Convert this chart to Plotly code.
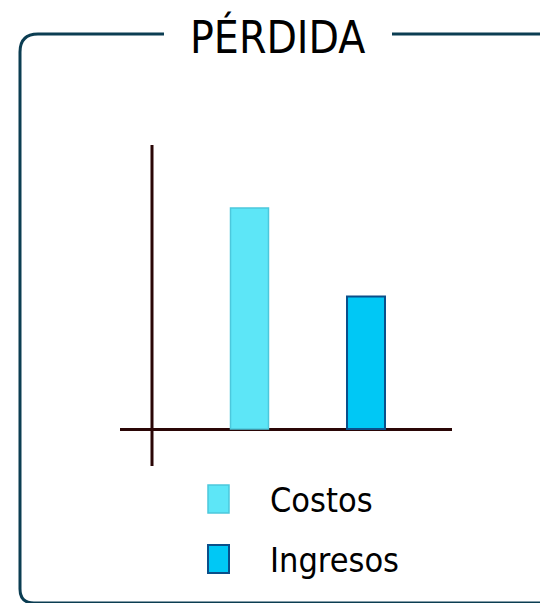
import plotly.graph_objects as go

# ---- data ----
categories = ["Costos", "Ingresos"]
values = [100, 60]
title_text = "PÉRDIDA"

# ---- styles ----
W, H = 540, 603
fill_colors = ["#5de6f7", "#00c8f5"]
edge_colors = ["#4cc8dc", "#0a4f8a"]
edge_widths = [1.5, 2]
axis_color = "#2a0606"
frame_color = "#0b3d52"
FONT = "DejaVu Sans Condensed, Liberation Sans Narrow, Liberation Sans, sans-serif"


def px(x):
    return x / W


def py(y):
    return 1 - y / H


fig = go.Figure()
for cat, val, fc, ec, ew in zip(categories, values, fill_colors, edge_colors, edge_widths):
    fig.add_trace(go.Bar(
        x=[cat], y=[val], name=cat, width=0.326,
        marker=dict(color=fc, line=dict(color=ec, width=ew)),
        showlegend=False, hoverinfo="skip",
    ))

unit = 116.5
c0 = 249.5
fig.update_layout(
    width=W, height=H,
    margin=dict(l=0, r=0, t=0, b=0),
    paper_bgcolor="white", plot_bgcolor="white",
    barmode="overlay",
    xaxis=dict(type="category", domain=[px(120), px(452)],
               range=[(120 - c0) / unit, (452 - c0) / unit],
               showticklabels=False, showgrid=False, zeroline=False, showline=False,
               fixedrange=True),
    yaxis=dict(domain=[py(466), py(145)], range=[-16.7, 128.5],
               showticklabels=False, showgrid=False, zeroline=True,
               zerolinecolor=axis_color, zerolinewidth=3, fixedrange=True),
)

shapes = []
# vertical axis line
shapes.append(dict(type="line", xref="paper", yref="paper",
                   x0=px(152), x1=px(152), y0=py(466), y1=py(145),
                   line=dict(color=axis_color, width=3)))

# frame (rounded rectangle broken by title)
def P(x, y):
    return f"{px(x):.5f},{py(y):.5f}"

frame_left = (f"M {P(164,34)} L {P(38,34)} Q {P(20,34)} {P(20,52)} "
              f"L {P(20,589)} Q {P(20,603)} {P(34,603)} L {P(541,603)}")
frame_right = f"M {P(392,34)} L {P(541,34)}"
for path in (frame_left, frame_right):
    shapes.append(dict(type="path", xref="paper", yref="paper", path=path,
                       line=dict(color=frame_color, width=3)))

# legend swatches
legend_y = [(485, 513), (545, 573)]
for (y0, y1), fc, ec, ew in zip(legend_y, fill_colors, edge_colors, edge_widths):
    shapes.append(dict(type="rect", xref="paper", yref="paper",
                       x0=px(208), x1=px(229), y0=py(y1), y1=py(y0),
                       fillcolor=fc, line=dict(color=ec, width=ew)))
fig.update_layout(shapes=shapes)

annotations = [dict(text=title_text, xref="paper", yref="paper",
                    x=px(277), y=py(37), xanchor="center", yanchor="middle",
                    showarrow=False, font=dict(family=FONT, size=44, color="black"))]
for cat, yc in zip(categories, [500, 560]):
    annotations.append(dict(text=cat, xref="paper", yref="paper",
                            x=px(268), y=py(yc), xanchor="left", yanchor="middle",
                            showarrow=False,
                            font=dict(family=FONT, size=34, color="black")))
fig.update_layout(annotations=annotations)

fig.write_html("out.html", config={"displayModeBar": False},
               post_script="document.body.style.margin='0';")
